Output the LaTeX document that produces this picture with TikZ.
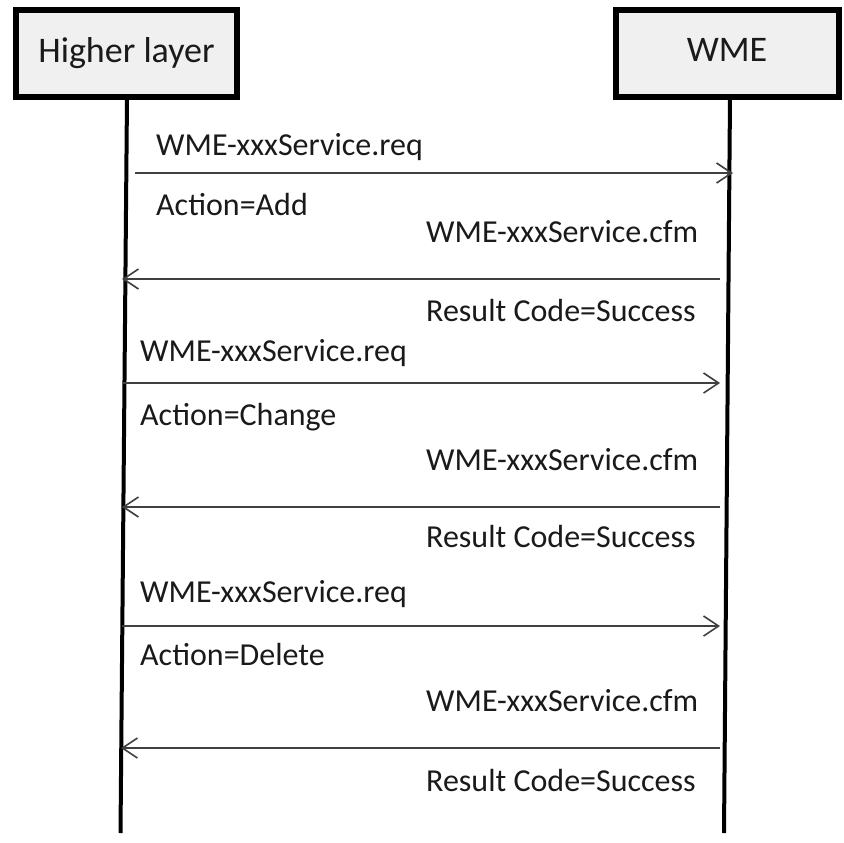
\documentclass[tikz,border=0pt]{standalone}
\usepackage{fontspec}
\setmainfont{Carlito}
\usetikzlibrary{arrows.meta}

\definecolor{boxfill}{HTML}{F0F0F0}
\definecolor{msgline}{HTML}{404040}
\definecolor{txt}{HTML}{1A1A1A}

\tikzset{
  actor/.style={draw=black, line width=6pt, fill=boxfill, inner sep=0pt,
    text=txt, font=\fontsize{36}{43}\selectfont},
  lifeline/.style={line width=4pt, black},
  msg/.style={draw=msgline, line width=2pt,
    -{Straight Barb[length=15pt, width=20pt, line width=1.6pt]}},
  lbl/.style={anchor=base west, inner sep=0pt, text=txt,
    font=\fontsize{32}{38}\selectfont},
}

\begin{document}
\begin{tikzpicture}[x=1pt, y=-1pt]
  \useasboundingbox (0,0) rectangle (843,843);

  % participants
  \node[actor, minimum width=221pt, minimum height=87pt] (hl) at (126.5,53.5) {};
  \node[anchor=base, inner sep=0pt, text=txt, font=\fontsize{36}{43}\selectfont]
    (hltext) at (126.5,63) {Higher layer};
  \node[actor, minimum width=223pt, minimum height=87pt] (wme) at (727.5,53.5) {};
  \node[anchor=base, inner sep=0pt, text=txt, font=\fontsize{36}{43}\selectfont]
    (wmetext) at (727,62) {WME};

  % lifelines
  \coordinate (hltop) at (127,97);
  \coordinate (wmetop) at (730,97);
  \coordinate (hlend) at (120.5,833);
  \coordinate (wmeend) at (724,833);
  \draw[lifeline] (hltop) -- (hlend);
  \draw[lifeline] (wmetop) -- (wmeend);

  % message end points
  \coordinate (r1a) at (135,173);  \coordinate (r1b) at (733,173);
  \coordinate (c1a) at (720,279);  \coordinate (c1b) at (122,279);
  \coordinate (r2a) at (123,383);  \coordinate (r2b) at (720,383);
  \coordinate (c2a) at (720,507);  \coordinate (c2b) at (122,507);
  \coordinate (r3a) at (122,626);  \coordinate (r3b) at (720,626);
  \coordinate (c3a) at (720,748);  \coordinate (c3b) at (121,748);

  % messages
  \draw[msg] (r1a) -- (r1b);
  \draw[msg] (c1a) -- (c1b);
  \draw[msg] (r2a) -- (r2b);
  \draw[msg] (c2a) -- (c2b);
  \draw[msg] (r3a) -- (r3b);
  \draw[msg] (c3a) -- (c3b);

  % message labels
  \node[lbl] (r1t) at (156,155) {WME-xxxService.req};
  \node[lbl] (r1p) at (156,215) {Action=Add};
  \node[lbl] (c1t) at (426,242) {WME-xxxService.cfm};
  \node[lbl] (c1p) at (426,321) {Result Code=Success};

  \node[lbl] (r2t) at (140,361) {WME-xxxService.req};
  \node[lbl] (r2p) at (140,425) {Action=Change};
  \node[lbl] (c2t) at (426,470) {WME-xxxService.cfm};
  \node[lbl] (c2p) at (426,547) {Result Code=Success};

  \node[lbl] (r3t) at (140,602) {WME-xxxService.req};
  \node[lbl] (r3p) at (140,665) {Action=Delete};
  \node[lbl] (c3t) at (426,711) {WME-xxxService.cfm};
  \node[lbl] (c3p) at (426,791) {Result Code=Success};
\end{tikzpicture}
\end{document}
